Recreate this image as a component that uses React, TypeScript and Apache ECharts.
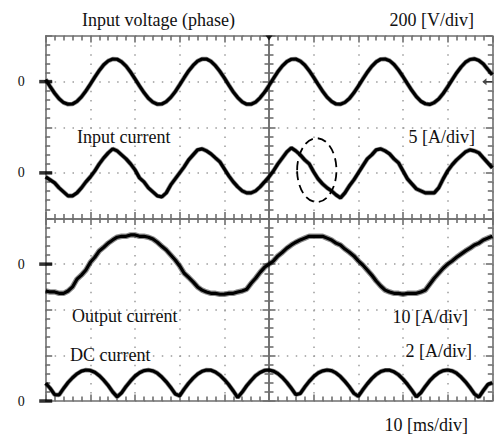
import React, { useEffect, useRef } from "react";
import * as echarts from "echarts";

// time base (ms), 10 ms/div
const TIME_MS = [
  -50, -49, -48, -47, -46, -45, -44, -43, -42, -41,
  -40, -39, -38, -37, -36, -35, -34, -33, -32, -31,
  -30, -29, -28, -27, -26, -25, -24, -23, -22, -21,
  -20, -19, -18, -17, -16, -15, -14, -13, -12, -11,
  -10, -9, -8, -7, -6, -5, -4, -3, -2, -1,
  0, 1, 2, 3, 4, 5, 6, 7, 8, 9,
  10, 11, 12, 13, 14, 15, 16, 17, 18, 19,
  20, 21, 22, 23, 24, 25, 26, 27, 28, 29,
  30, 31, 32, 33, 34, 35, 36, 37, 38, 39,
  40, 41, 42, 43, 44, 45, 46, 47, 48, 49,
  50,
];

// Input voltage (phase) [V], 200 V/div
const INPUT_VOLTAGE_V = [
  9, -22, -51, -75, -92, -99, -98, -87, -67, -41,
  -11, 20, 49, 74, 91, 99, 98, 87, 68, 42,
  12, -19, -48, -73, -90, -99, -98, -88, -69, -44,
  -14, 17, 47, 71, 90, 99, 99, 89, 70, 45,
  16, -15, -45, -70, -89, -99, -99, -90, -71, -47,
  -17, 14, 44, 69, 88, 98, 99, 90, 73, 48,
  19, -12, -42, -68, -87, -98, -99, -91, -74, -49,
  -20, 11, 41, 67, 87, 98, 99, 92, 75, 51,
  22, -9, -39, -66, -86, -97, -100, -92, -76, -52,
  -23, 8, 38, 64, 85, 97, 100, 93, 77, 53,
  30,
];

// Input current [A], 5 A/div
const INPUT_CURRENT_A = [
  -0.44, -0.77, -1.1, -1.64, -2.08, -2.52, -2.52, -2.19, -1.64, -0.99,
  -0.44, 0.22, 0.99, 1.64, 2.19, 2.63, 2.41, 1.97, 1.53, 0.99,
  0.33, -0.55, -0.99, -1.64, -2.08, -2.52, -2.63, -2.19, -1.32, -0.66,
  0.0, 0.66, 1.42, 1.97, 2.52, 2.63, 2.41, 2.08, 1.64, 1.21,
  0.44, -0.33, -0.99, -1.53, -1.97, -2.19, -2.19, -1.97, -1.53, -0.99,
  -0.44, 0.22, 0.99, 1.64, 2.3, 2.74, 2.41, 1.97, 1.42, 0.99,
  0.11, -0.66, -1.21, -1.64, -1.97, -2.41, -2.74, -2.19, -1.42, -0.77,
  0.0, 0.77, 1.53, 1.97, 2.52, 2.63, 2.41, 2.08, 1.53, 1.1,
  0.22, -0.66, -1.21, -1.75, -1.97, -2.19, -2.19, -2.19, -1.64, -0.66,
  0.22, 0.88, 1.42, 1.86, 2.3, 2.52, 2.41, 2.19, 1.64, 1.1,
  0.55,
];

// Output current [A], 10 A/div
const OUTPUT_CURRENT_A = [
  -5.9, -6.1, -6.1, -6.4, -6.4, -5.9, -5.0, -3.3, -2.4, -1.3,
  0.4, 1.5, 2.9, 3.7, 4.6, 5.3, 5.9, 6.1, 6.1, 6.4,
  6.4, 6.1, 6.1, 5.9, 5.5, 4.8, 3.9, 3.1, 2.0, 0.9,
  -0.4, -2.0, -2.9, -3.9, -5.0, -5.7, -6.1, -6.4, -6.4, -6.6,
  -6.6, -6.4, -6.4, -6.1, -5.9, -5.5, -4.2, -3.1, -1.8, -0.7,
  0.0, 0.7, 1.8, 2.6, 3.5, 4.2, 4.8, 5.3, 5.7, 6.1,
  6.1, 6.1, 6.1, 5.7, 5.3, 4.6, 4.2, 3.3, 2.6, 1.8,
  0.7, -0.2, -1.3, -2.4, -3.7, -4.8, -5.7, -6.1, -6.4, -6.4,
  -6.6, -6.4, -6.4, -6.4, -6.1, -5.7, -4.4, -3.1, -2.0, -0.9,
  0.0, 0.7, 1.5, 2.2, 2.9, 3.5, 4.2, 4.6, 5.3, 5.7,
  6.1,
];

// DC current [A], 2 A/div
const DC_CURRENT_A = [
  0.78, 0.56, 0.28, 0.27, 0.55, 0.81, 1.02, 1.19, 1.31, 1.36,
  1.34, 1.26, 1.11, 0.91, 0.68, 0.4, 0.18, 0.36, 0.64, 0.88,
  1.09, 1.24, 1.33, 1.36, 1.32, 1.22, 1.05, 0.84, 0.59, 0.31,
  0.23, 0.52, 0.78, 1.0, 1.18, 1.3, 1.36, 1.35, 1.27, 1.13,
  0.94, 0.71, 0.44, 0.15, 0.39, 0.67, 0.9, 1.11, 1.25, 1.34,
  1.36, 1.31, 1.2, 1.03, 0.81, 0.56, 0.28, 0.33, 0.61, 0.86,
  1.07, 1.23, 1.32, 1.36, 1.33, 1.23, 1.07, 0.86, 0.62, 0.34,
  0.21, 0.49, 0.75, 0.98, 1.16, 1.29, 1.35, 1.35, 1.28, 1.15,
  0.96, 0.73, 0.47, 0.18, 0.36, 0.64, 0.89, 1.09, 1.24, 1.33,
  1.36, 1.32, 1.22, 1.05, 0.84, 0.59, 0.31, 0.17, 0.46, 0.72,
  0.8,
];

// per-channel scale (units/div) and zero position (div from centre)
const CHANNEL_VALUES = [INPUT_VOLTAGE_V, INPUT_CURRENT_A, OUTPUT_CURRENT_A, DC_CURRENT_A];
const CHANNEL_PER_DIV = [200, 5, 10, 2];
const CHANNEL_ZERO_DIV = [3, 1, -1, -4];

// highlighted region on the input current (ms, A)
const ELLIPSE_CENTER = [10.7, 0.3];
const ELLIPSE_HALF = [4.4, 3.5];

const FONT = '"Liberation Serif", "Times New Roman", serif';
const GRAY = "#6f6f6f";
const DOT = "#9c9c9c";

function axis(extra: any, onZero: boolean, inside: boolean) {
  return {
    type: "value",
    axisLabel: { show: false },
    splitLine: { show: false },
    axisLine: {
      show: true,
      onZero,
      ...(onZero ? { onZeroAxisIndex: 0 } : {}),
      lineStyle: { color: GRAY, width: 1.6 },
    },
    axisTick: { show: true, inside, length: 6.5, lineStyle: { color: GRAY, width: 1.6 } },
    minorTick: { show: true, splitNumber: 5, length: 4.5, lineStyle: { color: GRAY, width: 1.6 } },
    ...extra,
  };
}

export default function App() {
  const ref = useRef<HTMLDivElement>(null);
  useEffect(() => {
    if (!ref.current) return;
    const chart = echarts.init(ref.current, undefined, { renderer: "svg" });
    const xCommon = { min: -50, max: 50, interval: 10 };
    const yCommon = { min: -4, max: 4, interval: 1 };

    const series: any[] = [];
    CHANNEL_VALUES.forEach((vals, ci) => {
      const data = TIME_MS.map((t, i) => [t, CHANNEL_ZERO_DIV[ci] + vals[i] / CHANNEL_PER_DIV[ci]]);
      series.push({
        type: "line",
        data,
        showSymbol: false,
        symbol: "none",
        silent: true,
        z: 3,
        lineStyle: { color: "rgba(0,0,0,0.45)", width: ci === 2 ? 5.5 : 4.6 },
      });
      series.push({
        type: "line",
        data,
        showSymbol: false,
        symbol: "none",
        silent: true,
        z: 4,
        lineStyle: { color: "#000", width: 3.2 },
      });
    });
    series.push({
      type: "scatter",
      data: CHANNEL_ZERO_DIV.map((z) => [-50, z]),
      symbol: "rect",
      symbolSize: [13, 3.5],
      itemStyle: { color: "#000" },
      clip: false,
      silent: true,
      z: 6,
    });
    series.push({
      type: "scatter",
      data: [[0, 4]],
      symbol: "triangle",
      symbolRotate: 180,
      symbolSize: [7, 5],
      symbolOffset: [0, 2],
      itemStyle: { color: "#000" },
      clip: false,
      silent: true,
      z: 6,
    });
    series.push({
      type: "scatter",
      data: [[50, CHANNEL_ZERO_DIV[0]]],
      symbol: "path://M0,5 L5,0 L5,4 L12,4 L12,6 L5,6 L5,10 Z",
      symbolSize: [10, 7],
      symbolOffset: [-5, 0],
      itemStyle: { color: "#222" },
      clip: false,
      silent: true,
      z: 6,
    });

    const option: any = {
      animation: false,
      backgroundColor: "#fff",
      grid: { left: 45.7, top: 36, width: 446.6, height: 365 },
      xAxis: [
        axis(
          {
            ...xCommon,
            position: "bottom",
            splitLine: { show: true, lineStyle: { color: DOT, width: 1.5, type: [1.5, 7.63] } },
          },
          false,
          true
        ),
        axis({ ...xCommon, position: "top" }, false, true),
        axis({ ...xCommon, position: "bottom" }, true, false),
        axis({ ...xCommon, position: "top" }, true, false),
      ],
      yAxis: [
        axis(
          {
            ...yCommon,
            position: "left",
            axisLabel: {
              show: true,
              margin: 21,
              fontSize: 14,
              fontFamily: FONT,
              color: "#111",
              formatter: (v: number) => (CHANNEL_ZERO_DIV.indexOf(v) >= 0 ? "0" : ""),
            },
            splitLine: { show: true, lineStyle: { color: DOT, width: 1.5, type: [1.5, 7.43] } },
          },
          false,
          true
        ),
        axis({ ...yCommon, position: "right" }, false, true),
        axis({ ...yCommon, position: "left" }, true, false),
        axis({ ...yCommon, position: "right" }, true, false),
      ],
      series,
    };
    chart.setOption(option);

    const ch = 1;
    const c = chart.convertToPixel({ gridIndex: 0 }, [
      ELLIPSE_CENTER[0],
      CHANNEL_ZERO_DIV[ch] + ELLIPSE_CENTER[1] / CHANNEL_PER_DIV[ch],
    ]) as number[];
    const e = chart.convertToPixel({ gridIndex: 0 }, [
      ELLIPSE_CENTER[0] + ELLIPSE_HALF[0],
      CHANNEL_ZERO_DIV[ch] + (ELLIPSE_CENTER[1] + ELLIPSE_HALF[1]) / CHANNEL_PER_DIV[ch],
    ]) as number[];

    const txt = (id: string, text: string, x: number, y: number, align: string) => ({
      type: "text",
      id,
      x,
      y,
      z: 10,
      style: {
        text,
        fontSize: 18,
        fontFamily: FONT,
        fill: "#111",
        align,
        textAlign: align,
        verticalAlign: "middle",
        textVerticalAlign: "middle",
      },
    });

    chart.setOption({
      graphic: [
        {
          type: "ellipse",
          id: "ell",
          z: 10,
          shape: { cx: c[0], cy: c[1], rx: Math.abs(e[0] - c[0]), ry: Math.abs(c[1] - e[1]) },
          style: { fill: "none", stroke: "#000", lineWidth: 1.8, lineDash: [9, 5] },
        },
        txt("t1", "Input voltage (phase)", 82, 20, "left"),
        txt("t2", "200 [V/div]", 474, 20, "right"),
        txt("t3", "Input current", 77, 137, "left"),
        txt("t4", "5 [A/div]", 475, 137, "right"),
        txt("t5", "Output current", 72, 316, "left"),
        txt("t6", "10 [A/div]", 468, 317, "right"),
        txt("t7", "DC current", 70, 355, "left"),
        txt("t8", "2 [A/div]", 472, 351, "right"),
        txt("t9", "10 [ms/div]", 468, 425, "right"),
      ],
    });

    return () => chart.dispose();
  }, []);
  return (
    <div
      ref={ref}
      style={{ position: "fixed", left: 0, top: 0, width: 495, height: 434, background: "#fff" }}
    />
  );
}
